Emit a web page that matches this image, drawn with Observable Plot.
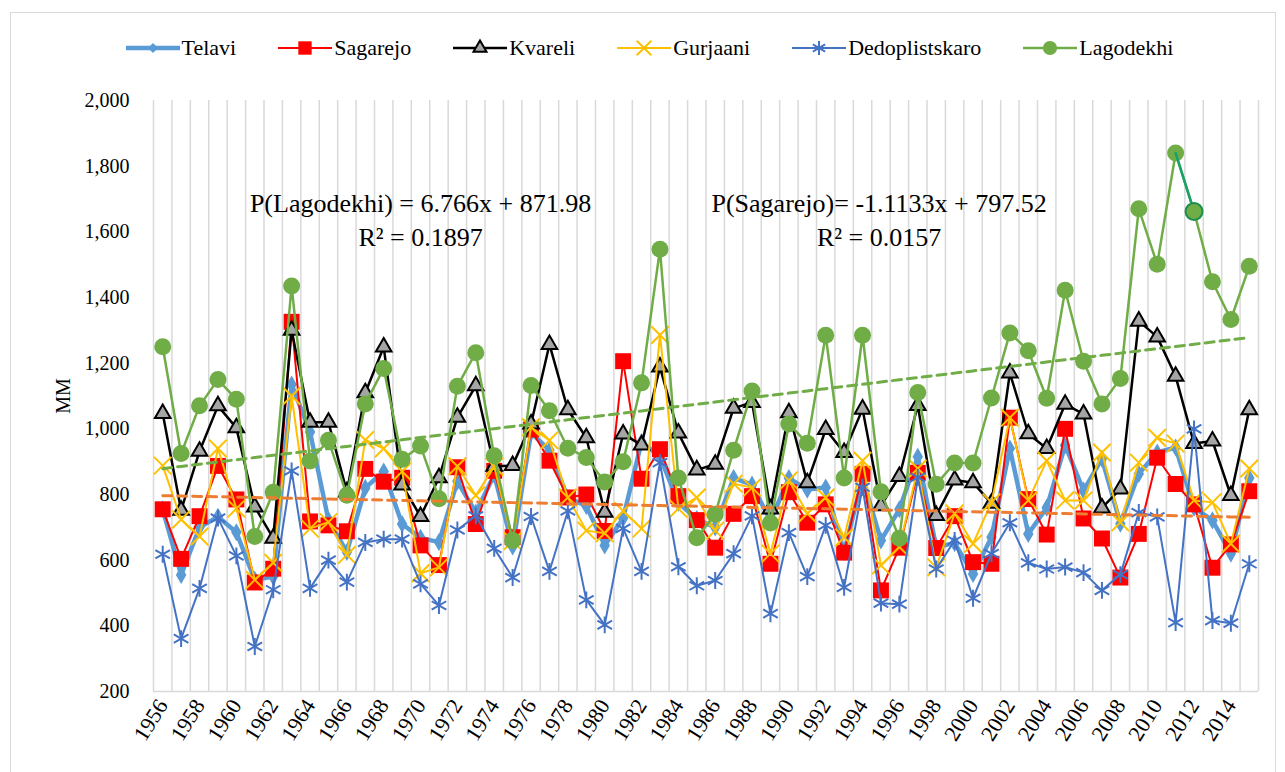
<!DOCTYPE html>
<html>
<head>
<meta charset="utf-8">
<script src="https://cdn.jsdelivr.net/npm/d3@7"></script>
<script src="https://cdn.jsdelivr.net/npm/@observablehq/plot@0.6"></script>
<style>
  body { margin: 0; background: #fff; }
  #wrap { position: relative; width: 1285px; height: 772px; overflow: hidden; font-family: "Liberation Serif", "Times New Roman", serif; }
  #frame { position: absolute; left: 10px; top: 12px; width: 1266px; height: 770px; border: 1px solid #d9d9d9; box-sizing: border-box; }
  #legend { position: absolute; top: 35px; left: 0; width: 1285px; display: flex; justify-content: center; align-items: center; gap: 42px; font-size: 22px; color: #000; padding-left: 14px; box-sizing: border-box; }
  #legend .item { display: flex; align-items: center; gap: 2px; }
  #chart { position: absolute; top: 80px; left: 0; }
</style>
</head>
<body>
<div id="wrap">
  <div id="frame"></div>
  <div id="legend"></div>
  <div id="chart"></div>
</div>
<script>
// ---- Data ----
const years = [1956,1957,1958,1959,1960,1961,1962,1963,1964,1965,1966,1967,1968,1969,1970,1971,1972,1973,1974,1975,
  1976,1977,1978,1979,1980,1981,1982,1983,1984,1985,1986,1987,1988,1989,1990,1991,1992,1993,1994,1995,
  1996,1997,1998,1999,2000,2001,2002,2003,2004,2005,2006,2007,2008,2009,2010,2011,2012,2013,2014,2015];

const telavi = [755,555,700,732,685,540,550,1135,990,722,625,820,870,710,668,655,840,745,860,642,
  988,935,790,765,645,728,960,915,775,725,700,850,830,720,850,815,821,625,850,660,
  755,915,640,652,558,670,940,680,760,950,812,909,711,863,928,943,760,721,620,850];

const sagarejo = [755,604,734,887,785,532,574,1326,718,706,688,878,839,851,645,585,883,710,872,670,
  998,903,791,800,689,1206,848,938,795,722,638,741,795,589,807,714,770,623,863,508,
  638,866,637,734,594,589,1034,786,678,1000,727,666,547,680,912,832,770,577,648,810];

const kvareli = [1047,752,932,1070,1003,762,667,1300,1020,1020,808,1110,1249,829,733,851,1035,1131,886,888,
  1015,1257,1058,973,746,984,951,1188,987,875,892,1063,1080,756,1049,836,998,928,1060,766,
  855,1071,736,844,836,773,1170,985,940,1075,1045,759,817,1328,1280,1160,955,963,797,1058];

const gurjaani = [888,724,672,940,757,540,592,1100,696,716,616,966,940,870,560,578,886,797,885,658,
  1005,965,791,690,682,750,696,1286,757,791,690,833,821,620,843,742,791,669,903,584,
  640,879,578,742,650,776,1034,782,903,782,782,928,715,897,973,955,782,776,650,879];

const dedoplistskaro = [618,361,514,728,613,337,510,872,514,600,533,654,664,664,528,462,692,735,636,547,
  733,566,750,479,403,697,566,897,580,522,538,620,735,437,684,550,706,517,822,469,
  466,852,573,660,484,620,714,592,573,579,562,508,556,745,732,410,1000,416,408,589];

const lagodekhi = [1250,925,1070,1150,1090,672,807,1435,902,965,798,1076,1184,907,948,787,1130,1232,918,660,
  1132,1055,941,913,838,900,1140,1547,850,668,740,935,1115,713,1015,956,1285,850,1285,808,
  667,1111,831,896,896,1094,1292,1238,1093,1422,1206,1076,1153,1670,1501,1840,1662,1448,1333,1495];

const stationNames = ["Telavi","Sagarejo","Kvareli","Gurjaani","Dedoplistskaro","Lagodekhi"];
const stationValues = [telavi, sagarejo, kvareli, gurjaani, dedoplistskaro, lagodekhi];

const xTickLabels = [1956,1958,1960,1962,1964,1966,1968,1970,1972,1974,1976,1978,1980,1982,1984,1986,1988,1990,
  1992,1994,1996,1998,2000,2002,2004,2006,2008,2010,2012,2014];
const yTickLabels = [200,400,600,800,1000,1200,1400,1600,1800,2000];

// trend equations shown on the chart: P = slope * x + intercept, x = 1..60
const trendNames = ["Lagodekhi","Sagarejo"];
const trendSlopes = [6.766, -1.1133];
const trendIntercepts = [871.98, 797.52];

const annotationTexts = ["P(Lagodekhi) = 6.766x + 871.98", "R² = 0.1897", "P(Sagarejo)= -1.1133x + 797.52", "R² = 0.0157"];
const annotationYears = [1970, 1970, 1994.9, 1994.9];
const annotationValues = [1686, 1583, 1686, 1583];

// ---- Styles ----
const styles = {
  Telavi:         {color: "#5B9BD5", width: 4.5, symbol: "diamond",  r: 5.5, fill: "#5B9BD5", stroke: "none",    sw: 0},
  Sagarejo:       {color: "#FF0000", width: 2,   symbol: "square",   r: 9,   fill: "#FF0000", stroke: "none",    sw: 0},
  Kvareli:        {color: "#000000", width: 2.5, symbol: "triangle", r: 5.8, fill: "#A5A5A5", stroke: "#000000", sw: 2},
  Gurjaani:       {color: "#FFC000", width: 2,   symbol: "times",    r: 8,   fill: "none",    stroke: "#FFC000", sw: 2},
  Dedoplistskaro: {color: "#4472C4", width: 2,   symbol: "asterisk", r: 8,   fill: "none",    stroke: "#4472C4", sw: 2},
  Lagodekhi:      {color: "#70AD47", width: 2.5, symbol: "circle",   r: 8.5, fill: "#70AD47", stroke: "none",    sw: 0}
};
const trendColors = {Lagodekhi: "#70AD47", Sagarejo: "#ED7D31"};

// ---- Build tables ----
const tables = stationNames.map((name, k) =>
  years.map((yr, i) => ({station: name, year: yr, value: stationValues[k][i]})));
const gridYears = [years[0] - 0.5, ...years.map(y => y + 0.5)];
const trendTables = trendNames.map((name, k) =>
  years.map((yr, i) => ({station: name, year: yr, value: trendSlopes[k] * (i + 1) + trendIntercepts[k]})));
const annotations = annotationTexts.map((t, i) => ({text: t, year: annotationYears[i], value: annotationValues[i]}));

const marks = [
  Plot.ruleX(gridYears, {stroke: "#d9d9d9", strokeWidth: 1.5}),
  Plot.ruleY([yTickLabels[0]], {stroke: "#d9d9d9", strokeWidth: 1.5}),
  Plot.axisY({ticks: yTickLabels, tickFormat: d3.format(","), tickSize: 0, tickPadding: 24, fontSize: 20,
    label: "MM", labelAnchor: "center", labelArrow: "none", labelOffset: 98}),
  Plot.axisX({ticks: xTickLabels, tickFormat: d => String(d), tickRotate: -58, tickSize: 0, tickPadding: 10,
    fontSize: 22, label: null})
];

tables.forEach((rows, k) => {
  const s = styles[stationNames[k]];
  marks.push(Plot.line(rows, {x: "year", y: "value", stroke: s.color, strokeWidth: s.width, strokeLinejoin: "round"}));
  marks.push(Plot.dot(rows, {x: "year", y: "value", symbol: s.symbol, r: s.r, fill: s.fill, stroke: s.stroke, strokeWidth: s.sw}));
});

trendTables.forEach((rows, k) => {
  marks.push(Plot.line(rows, {x: "year", y: "value", stroke: trendColors[trendNames[k]], strokeWidth: 3, strokeDasharray: "9,6"}));
});

// highlighted (selected) Lagodekhi point in the reference
const lagoRows = tables[5];
const selected = lagoRows.filter(d => d.year === 2011 || d.year === 2012);
marks.push(Plot.line(selected, {x: "year", y: "value", stroke: "#17a26b", strokeWidth: 2.5}));
marks.push(Plot.dot(selected.filter(d => d.year === 2012), {x: "year", y: "value", r: 8.5, fill: "#70AD47", stroke: "#1b8f4d", strokeWidth: 2}));

marks.push(Plot.text(annotations, {x: "year", y: "value", text: "text", fontSize: 26, fill: "#000"}));

const chart = Plot.plot({
  width: 1285,
  height: 692,
  marginTop: 20,
  marginBottom: 81,
  marginLeft: 153,
  marginRight: 27,
  x: {type: "linear", domain: [gridYears[0], gridYears[gridYears.length - 1]]},
  y: {domain: [yTickLabels[0], yTickLabels[yTickLabels.length - 1]]},
  style: {fontFamily: "'Liberation Serif', 'Times New Roman', serif", color: "#000", background: "transparent", overflow: "visible"},
  marks
});
document.getElementById("chart").appendChild(chart);

// ---- Legend ----
const symbolMap = {diamond: d3.symbolDiamond2, square: d3.symbolSquare, triangle: d3.symbolTriangle,
  times: d3.symbolTimes, asterisk: d3.symbolAsterisk, circle: d3.symbolCircle};
const legend = d3.select("#legend");
stationNames.forEach(name => {
  const s = styles[name];
  const item = legend.append("div").attr("class", "item");
  const svg = item.append("svg").attr("width", 54).attr("height", 24);
  svg.append("line").attr("x1", 0).attr("x2", 54).attr("y1", 12).attr("y2", 12)
    .attr("stroke", s.color).attr("stroke-width", s.width);
  svg.append("path").attr("transform", "translate(27,12)")
    .attr("d", d3.symbol(symbolMap[s.symbol], Math.PI * s.r * s.r * 0.7)())
    .attr("fill", s.fill).attr("stroke", s.stroke === "none" ? null : s.stroke).attr("stroke-width", s.sw);
  item.append("span").text(name);
});
</script>
</body>
</html>
